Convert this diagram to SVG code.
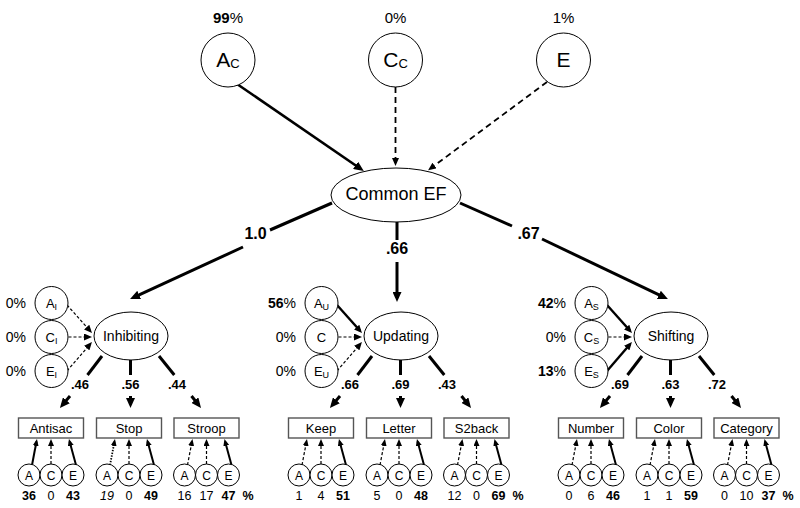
<svg xmlns="http://www.w3.org/2000/svg" width="800" height="508" viewBox="0 0 800 508">
<defs>
<style>
text{font-family:"Liberation Sans",Arial,sans-serif;fill:#000}
.node{fill:#fff;stroke:#000;stroke-width:1}
.box{fill:#fff;stroke:#555;stroke-width:1.4}
.t21{font-size:21px}.sub13{font-size:13px}
.t18{font-size:18px}.t16{font-size:16px}.t15{font-size:15px}.t14{font-size:14px}.t13{font-size:13px}.t12{font-size:12px}.sub9{font-size:9px}
.num{font-size:12.5px}
.b{font-weight:bold}.i{font-style:italic}
.mid{text-anchor:middle}.end{text-anchor:end}
.sT{stroke:#000;stroke-width:2.6;fill:none}
.sL{stroke:#000;stroke-width:3;fill:none}
.dT{stroke:#000;stroke-width:1.8;fill:none;stroke-dasharray:6,4}
.sM{stroke:#000;stroke-width:2.4;fill:none}
.dM{stroke:#000;stroke-width:1.2;fill:none;stroke-dasharray:3,2}
.sB{stroke:#000;stroke-width:2;fill:none}
.dB{stroke:#000;stroke-width:1.2;fill:none;stroke-dasharray:3,2}
.oB{stroke:#000;stroke-width:1.8;fill:none;stroke-dasharray:1.4,1.4}
</style>
<marker id="big" viewBox="0 0 10 9" markerWidth="10" markerHeight="9" refX="6" refY="4.5" orient="auto" markerUnits="userSpaceOnUse"><path d="M0,0 L10,4.5 L0,9 z" fill="#000"/></marker>
<marker id="med" viewBox="0 0 8 7" markerWidth="8" markerHeight="7" refX="5" refY="3.5" orient="auto" markerUnits="userSpaceOnUse"><path d="M0,0 L8,3.5 L0,7 z" fill="#000"/></marker>
<marker id="sm" viewBox="0 0 7 6" markerWidth="7" markerHeight="6" refX="4.5" refY="3" orient="auto" markerUnits="userSpaceOnUse"><path d="M0,0 L7,3 L0,6 z" fill="#000"/></marker>
</defs>

<g id="connectors">
  <!-- top ACE to Common EF -->
  <path class="sT" d="M237,84 L360.5,168.8" marker-end="url(#big)"/>
  <path class="dT" d="M395.5,87 L395.5,163" marker-end="url(#med)"/>
  <path class="dT" d="M547,82 L430.5,168.5" marker-end="url(#med)"/>
  <!-- Common EF loadings -->
  <path class="sL" d="M332,203 L270,230"/>
  <path class="sL" d="M243,247 L133.7,297.4" marker-end="url(#big)"/>
  <path class="sL" d="M397,222 L397,240"/>
  <path class="sL" d="M397,262 L397,298" marker-end="url(#big)"/>
  <path class="sL" d="M460,203 L512,226"/>
  <path class="sL" d="M542,239 L664.3,297.4" marker-end="url(#big)"/>

  <!-- Inhibiting group -->
  <g>
    <path class="dM" d="M67,305 L90,330.8" marker-end="url(#med)"/>
    <path class="dM" d="M68.5,337 L89,337" marker-end="url(#med)"/>
    <path class="dM" d="M67,371 L90,344.3" marker-end="url(#med)"/>
    <path class="sL" d="M102,356 L87.5,375"/>
    <path class="sL" d="M70,396 L62.5,404.9" marker-end="url(#big)"/>
    <path class="sL" d="M130.5,360 L130.5,375"/>
    <path class="sL" d="M130.5,396 L130.5,404" marker-end="url(#big)"/>
    <path class="sL" d="M159,356 L174.3,375"/>
    <path class="sL" d="M191.5,396 L198.5,404.9" marker-end="url(#big)"/>
    <path class="sB" d="M32,465 L36.5,441.5" marker-end="url(#sm)"/>
    <path class="dB" d="M51,464 L51,441.5" marker-end="url(#sm)"/>
    <path class="sB" d="M76,465 L69.6,441.4" marker-end="url(#sm)"/>
    <path class="oB" d="M110,465 L114.5,441.5" marker-end="url(#sm)"/>
    <path class="dB" d="M129,464 L129,441.5" marker-end="url(#sm)"/>
    <path class="sB" d="M154,465 L147.6,441.4" marker-end="url(#sm)"/>
    <path class="dB" d="M187.5,465 L192,441.5" marker-end="url(#sm)"/>
    <path class="dB" d="M206.5,464 L206.5,441.5" marker-end="url(#sm)"/>
    <path class="sB" d="M231.5,465 L225.1,441.4" marker-end="url(#sm)"/>
  </g>

  <!-- Updating group -->
  <g transform="translate(270,0)">
    <path class="sM" d="M67,305 L90,330.8" marker-end="url(#med)"/>
    <path class="dM" d="M68.5,337 L89,337" marker-end="url(#med)"/>
    <path class="dM" d="M67,371 L90,344.3" marker-end="url(#med)"/>
    <path class="sL" d="M102,356 L87.5,375"/>
    <path class="sL" d="M70,396 L62.5,404.9" marker-end="url(#big)"/>
    <path class="sL" d="M130.5,360 L130.5,375"/>
    <path class="sL" d="M130.5,396 L130.5,404" marker-end="url(#big)"/>
    <path class="sL" d="M159,356 L174.3,375"/>
    <path class="sL" d="M191.5,396 L198.5,404.9" marker-end="url(#big)"/>
    <path class="dB" d="M32,465 L36.5,441.5" marker-end="url(#sm)"/>
    <path class="dB" d="M51,464 L51,441.5" marker-end="url(#sm)"/>
    <path class="sB" d="M76,465 L69.6,441.4" marker-end="url(#sm)"/>
    <path class="dB" d="M110,465 L114.5,441.5" marker-end="url(#sm)"/>
    <path class="dB" d="M129,464 L129,441.5" marker-end="url(#sm)"/>
    <path class="sB" d="M154,465 L147.6,441.4" marker-end="url(#sm)"/>
    <path class="dB" d="M187.5,465 L192,441.5" marker-end="url(#sm)"/>
    <path class="dB" d="M206.5,464 L206.5,441.5" marker-end="url(#sm)"/>
    <path class="sB" d="M231.5,465 L225.1,441.4" marker-end="url(#sm)"/>
  </g>

  <!-- Shifting group -->
  <g transform="translate(540,0)">
    <path class="sM" d="M67,305 L90,330.8" marker-end="url(#med)"/>
    <path class="dM" d="M68.5,337 L89,337" marker-end="url(#med)"/>
    <path class="sM" d="M67,371 L90,344.3" marker-end="url(#med)"/>
    <path class="sL" d="M102,356 L87.5,375"/>
    <path class="sL" d="M70,396 L62.5,404.9" marker-end="url(#big)"/>
    <path class="sL" d="M130.5,360 L130.5,375"/>
    <path class="sL" d="M130.5,396 L130.5,404" marker-end="url(#big)"/>
    <path class="sL" d="M159,356 L174.3,375"/>
    <path class="sL" d="M191.5,396 L198.5,404.9" marker-end="url(#big)"/>
    <path class="dB" d="M32,465 L36.5,441.5" marker-end="url(#sm)"/>
    <path class="dB" d="M51,464 L51,441.5" marker-end="url(#sm)"/>
    <path class="sB" d="M76,465 L69.6,441.4" marker-end="url(#sm)"/>
    <path class="dB" d="M110,465 L114.5,441.5" marker-end="url(#sm)"/>
    <path class="dB" d="M129,464 L129,441.5" marker-end="url(#sm)"/>
    <path class="sB" d="M154,465 L147.6,441.4" marker-end="url(#sm)"/>
    <path class="dB" d="M187.5,465 L192,441.5" marker-end="url(#sm)"/>
    <path class="dB" d="M206.5,464 L206.5,441.5" marker-end="url(#sm)"/>
    <path class="sB" d="M231.5,465 L225.1,441.4" marker-end="url(#sm)"/>
  </g>
</g>

<!-- top nodes -->
<g id="AC"><circle class="node" cx="228" cy="60" r="27"/><text class="t21 mid" x="228" y="67">A<tspan class="sub13" dy="1">C</tspan></text></g>
<g id="CC"><circle class="node" cx="395.5" cy="60" r="27"/><text class="t21 mid" x="395.5" y="67">C<tspan class="sub13" dy="1">C</tspan></text></g>
<g id="E"><circle class="node" cx="563.5" cy="60" r="27"/><text class="t21 mid" x="563.5" y="67">E</text></g>
<g id="CommonEF"><ellipse class="node" cx="396" cy="195" rx="65" ry="27"/><text class="t18 mid" x="396" y="200">Common EF</text></g>

<g id="top-labels">
  <text class="t15 mid" x="228" y="23"><tspan class="b">99</tspan>%</text>
  <text class="t15 mid" x="395.5" y="23">0%</text>
  <text class="t15 mid" x="563.5" y="23">1%</text>
  <text class="t16 mid b" x="255.5" y="238.5">1.0</text>
  <text class="t16 mid b" x="397" y="254">.66</text>
  <text class="t16 mid b" x="528.5" y="238.5">.67</text>
</g>

<!-- Inhibiting -->
<g id="Inhibiting"><ellipse class="node" cx="131" cy="336" rx="37" ry="24"/><text class="t14 mid" x="131" y="341">Inhibiting</text></g>
<g id="AI"><circle class="node" cx="51.5" cy="303" r="16.5"/><text class="t13 mid" x="51.5" y="308">A<tspan class="sub9" dy="1.5">I</tspan></text></g>
<g id="CI"><circle class="node" cx="51.5" cy="337" r="16.5"/><text class="t13 mid" x="51.5" y="342">C<tspan class="sub9" dy="1.5">I</tspan></text></g>
<g id="EI"><circle class="node" cx="51.5" cy="371" r="16.5"/><text class="t13 mid" x="51.5" y="376">E<tspan class="sub9" dy="1.5">I</tspan></text></g>
<g id="Antisac"><rect class="box" x="18.5" y="418" width="65" height="20"/><text class="t13 mid" x="51" y="432.5">Antisac</text></g>
<g id="Stop"><rect class="box" x="96.5" y="418" width="65" height="20"/><text class="t13 mid" x="129" y="432.5">Stop</text></g>
<g id="Stroop"><rect class="box" x="174" y="418" width="65" height="20"/><text class="t13 mid" x="206.5" y="432.5">Stroop</text></g>
<g id="Inhibiting-ACE">
  <circle class="node" cx="29" cy="475" r="11"/><text class="t12 mid" x="29" y="479.5">A</text>
  <circle class="node" cx="51" cy="475" r="11"/><text class="t12 mid" x="51" y="479.5">C</text>
  <circle class="node" cx="73" cy="475" r="11"/><text class="t12 mid" x="73" y="479.5">E</text>
  <circle class="node" cx="107" cy="475" r="11"/><text class="t12 mid" x="107" y="479.5">A</text>
  <circle class="node" cx="129" cy="475" r="11"/><text class="t12 mid" x="129" y="479.5">C</text>
  <circle class="node" cx="151" cy="475" r="11"/><text class="t12 mid" x="151" y="479.5">E</text>
  <circle class="node" cx="184.5" cy="475" r="11"/><text class="t12 mid" x="184.5" y="479.5">A</text>
  <circle class="node" cx="206.5" cy="475" r="11"/><text class="t12 mid" x="206.5" y="479.5">C</text>
  <circle class="node" cx="228.5" cy="475" r="11"/><text class="t12 mid" x="228.5" y="479.5">E</text>
</g>
<g id="Inhibiting-labels">
  <text class="t14 end" x="26" y="308">0%</text>
  <text class="t14 end" x="26" y="342">0%</text>
  <text class="t14 end" x="26" y="376">0%</text>
  <text class="t13 mid b" x="80" y="389">.46</text>
  <text class="t13 mid b" x="130.5" y="389">.56</text>
  <text class="t13 mid b" x="177" y="389">.44</text>
  <text class="num mid b" x="29" y="500">36</text><text class="num mid" x="51" y="500">0</text><text class="num mid b" x="73" y="500">43</text>
  <text class="num mid i" x="107" y="500">19</text><text class="num mid" x="129" y="500">0</text><text class="num mid b" x="151" y="500">49</text>
  <text class="num mid" x="184.5" y="500">16</text><text class="num mid" x="206.5" y="500">17</text><text class="num mid b" x="228.5" y="500">47</text>
  <text class="num mid b" x="248" y="500">%</text>
</g>

<!-- Updating -->
<g id="Updating"><ellipse class="node" cx="401" cy="336" rx="37" ry="24"/><text class="t14 mid" x="401" y="341">Updating</text></g>
<g id="AU"><circle class="node" cx="321.5" cy="303" r="16.5"/><text class="t13 mid" x="321.5" y="308">A<tspan class="sub9" dy="1.5">U</tspan></text></g>
<g id="CU"><circle class="node" cx="321.5" cy="337" r="16.5"/><text class="t13 mid" x="321.5" y="342">C</text></g>
<g id="EU"><circle class="node" cx="321.5" cy="371" r="16.5"/><text class="t13 mid" x="321.5" y="376">E<tspan class="sub9" dy="1.5">U</tspan></text></g>
<g id="Keep"><rect class="box" x="288.5" y="418" width="65" height="20"/><text class="t13 mid" x="321" y="432.5">Keep</text></g>
<g id="Letter"><rect class="box" x="366.5" y="418" width="65" height="20"/><text class="t13 mid" x="399" y="432.5">Letter</text></g>
<g id="S2back"><rect class="box" x="444" y="418" width="65" height="20"/><text class="t13 mid" x="476.5" y="432.5">S2back</text></g>
<g id="Updating-ACE">
  <circle class="node" cx="299" cy="475" r="11"/><text class="t12 mid" x="299" y="479.5">A</text>
  <circle class="node" cx="321" cy="475" r="11"/><text class="t12 mid" x="321" y="479.5">C</text>
  <circle class="node" cx="343" cy="475" r="11"/><text class="t12 mid" x="343" y="479.5">E</text>
  <circle class="node" cx="377" cy="475" r="11"/><text class="t12 mid" x="377" y="479.5">A</text>
  <circle class="node" cx="399" cy="475" r="11"/><text class="t12 mid" x="399" y="479.5">C</text>
  <circle class="node" cx="421" cy="475" r="11"/><text class="t12 mid" x="421" y="479.5">E</text>
  <circle class="node" cx="454.5" cy="475" r="11"/><text class="t12 mid" x="454.5" y="479.5">A</text>
  <circle class="node" cx="476.5" cy="475" r="11"/><text class="t12 mid" x="476.5" y="479.5">C</text>
  <circle class="node" cx="498.5" cy="475" r="11"/><text class="t12 mid" x="498.5" y="479.5">E</text>
</g>
<g id="Updating-labels">
  <text class="t14 end" x="296" y="308"><tspan class="b">56</tspan>%</text>
  <text class="t14 end" x="296" y="342">0%</text>
  <text class="t14 end" x="296" y="376">0%</text>
  <text class="t13 mid b" x="350" y="389">.66</text>
  <text class="t13 mid b" x="400.5" y="389">.69</text>
  <text class="t13 mid b" x="447" y="389">.43</text>
  <text class="num mid" x="299" y="500">1</text><text class="num mid" x="321" y="500">4</text><text class="num mid b" x="343" y="500">51</text>
  <text class="num mid" x="377" y="500">5</text><text class="num mid" x="399" y="500">0</text><text class="num mid b" x="421" y="500">48</text>
  <text class="num mid" x="454.5" y="500">12</text><text class="num mid" x="476.5" y="500">0</text><text class="num mid b" x="498.5" y="500">69</text>
  <text class="num mid b" x="518" y="500">%</text>
</g>

<!-- Shifting -->
<g id="Shifting"><ellipse class="node" cx="671" cy="336" rx="37" ry="24"/><text class="t14 mid" x="671" y="341">Shifting</text></g>
<g id="AS"><circle class="node" cx="591.5" cy="303" r="16.5"/><text class="t13 mid" x="591.5" y="308">A<tspan class="sub9" dy="1.5">S</tspan></text></g>
<g id="CS"><circle class="node" cx="591.5" cy="337" r="16.5"/><text class="t13 mid" x="591.5" y="342">C<tspan class="sub9" dy="1.5">S</tspan></text></g>
<g id="ES"><circle class="node" cx="591.5" cy="371" r="16.5"/><text class="t13 mid" x="591.5" y="376">E<tspan class="sub9" dy="1.5">S</tspan></text></g>
<g id="Number"><rect class="box" x="558.5" y="418" width="65" height="20"/><text class="t13 mid" x="591" y="432.5">Number</text></g>
<g id="Color"><rect class="box" x="636.5" y="418" width="65" height="20"/><text class="t13 mid" x="669" y="432.5">Color</text></g>
<g id="Category"><rect class="box" x="714" y="418" width="65" height="20"/><text class="t13 mid" x="746.5" y="432.5">Category</text></g>
<g id="Shifting-ACE">
  <circle class="node" cx="569" cy="475" r="11"/><text class="t12 mid" x="569" y="479.5">A</text>
  <circle class="node" cx="591" cy="475" r="11"/><text class="t12 mid" x="591" y="479.5">C</text>
  <circle class="node" cx="613" cy="475" r="11"/><text class="t12 mid" x="613" y="479.5">E</text>
  <circle class="node" cx="647" cy="475" r="11"/><text class="t12 mid" x="647" y="479.5">A</text>
  <circle class="node" cx="669" cy="475" r="11"/><text class="t12 mid" x="669" y="479.5">C</text>
  <circle class="node" cx="691" cy="475" r="11"/><text class="t12 mid" x="691" y="479.5">E</text>
  <circle class="node" cx="724.5" cy="475" r="11"/><text class="t12 mid" x="724.5" y="479.5">A</text>
  <circle class="node" cx="746.5" cy="475" r="11"/><text class="t12 mid" x="746.5" y="479.5">C</text>
  <circle class="node" cx="768.5" cy="475" r="11"/><text class="t12 mid" x="768.5" y="479.5">E</text>
</g>
<g id="Shifting-labels">
  <text class="t14 end" x="566" y="308"><tspan class="b">42</tspan>%</text>
  <text class="t14 end" x="566" y="342">0%</text>
  <text class="t14 end" x="566" y="376"><tspan class="b">13</tspan>%</text>
  <text class="t13 mid b" x="620" y="389">.69</text>
  <text class="t13 mid b" x="670.5" y="389">.63</text>
  <text class="t13 mid b" x="717" y="389">.72</text>
  <text class="num mid" x="569" y="500">0</text><text class="num mid" x="591" y="500">6</text><text class="num mid b" x="613" y="500">46</text>
  <text class="num mid" x="647" y="500">1</text><text class="num mid" x="669" y="500">1</text><text class="num mid b" x="691" y="500">59</text>
  <text class="num mid" x="724.5" y="500">0</text><text class="num mid" x="746.5" y="500">10</text><text class="num mid b" x="768.5" y="500">37</text>
  <text class="num mid b" x="788" y="500">%</text>
</g>
</svg>
